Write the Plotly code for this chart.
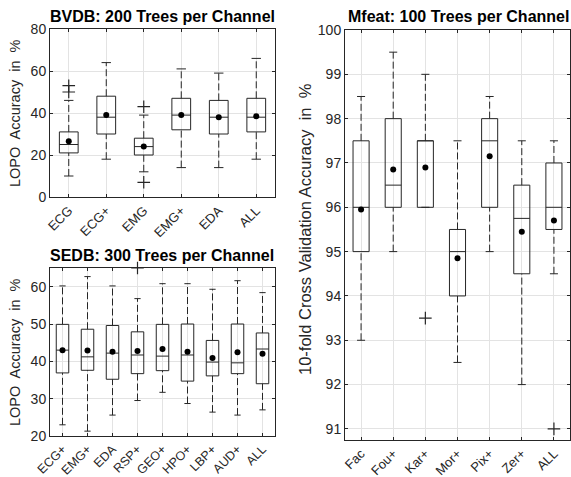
import plotly.graph_objects as go

# ---------------- data ----------------
bvdb_labels = ["ECG", "ECG+", "EMG", "EMG+", "EDA", "ALL"]
bvdb_low = [10, 18, 12, 14, 14, 18]
bvdb_q1 = [21, 30, 20, 32, 30, 31]
bvdb_med = [25, 38, 24, 39, 38, 38]
bvdb_q3 = [31, 48, 28, 47, 46, 47]
bvdb_high = [46, 64, 39, 61, 59, 66]
bvdb_mean = [26.5, 39, 24, 39, 38, 38.5]
bvdb_out_cat = ["ECG", "ECG", "EMG", "EMG"]
bvdb_out_val = [50, 53, 43, 7]

sedb_labels = ["ECG+", "EMG+", "EDA", "RSP+", "GEO+", "HPO+", "LBP+", "AUD+", "ALL"]
sedb_low = [23, 21.3, 25.6, 29.5, 31.7, 28.7, 26.4, 25.6, 27]
sedb_q1 = [36.9, 37.6, 35.2, 36.7, 37.5, 34.7, 36.1, 36.7, 34]
sedb_med = [43, 41.2, 42.2, 41.7, 41.4, 41.7, 39.8, 39.6, 43.3]
sedb_q3 = [49.9, 48.6, 49.6, 47.9, 49.9, 50, 45.6, 50, 47.6]
sedb_high = [60.2, 62.7, 60.2, 56.8, 60.8, 60.8, 59.3, 61.6, 58.4]
sedb_mean = [43, 42.9, 42.6, 42.8, 43.3, 42.6, 40.9, 42.4, 42]
sedb_out_cat = ["RSP+"]
sedb_out_val = [65]

mfeat_labels = ["Fac", "Fou+", "Kar+", "Mor+", "Pix+", "Zer+", "ALL"]
mfeat_low = [93, 95, 96, 92.5, 95, 92, 94.5]
mfeat_q1 = [95, 96, 96, 94, 96, 94.5, 95.5]
mfeat_med = [96, 96.5, 97.5, 95, 97.5, 95.75, 96]
mfeat_q3 = [97.5, 98, 97.5, 95.5, 98, 96.5, 97]
mfeat_high = [98.5, 99.5, 99, 97.5, 98.5, 97.5, 97.5]
mfeat_mean = [95.95, 96.85, 96.9, 94.85, 97.15, 95.45, 95.7]
mfeat_out_cat = ["Kar+", "ALL"]
mfeat_out_val = [93.5, 91]

# ---------------- styling ----------------
INK = "#262626"
GRID = "#e3e3e3"
FONT = "Liberation Sans, Arial, sans-serif"
BW = 0.25   # half box width (category units)
CW = 0.125  # half cap width

fig = go.Figure()


def add_panel(labels, low, q1, med, q3, high, mean, out_cat, out_val, xa, ya):
    n = len(labels)
    bx, by, mx, my, wx, wy, cx, cy = [], [], [], [], [], [], [], []
    for i in range(n):
        x = i + 1
        bx += [x - BW, x + BW, x + BW, x - BW, x - BW, None]
        by += [q1[i], q1[i], q3[i], q3[i], q1[i], None]
        mx += [x - BW, x + BW, None]
        my += [med[i], med[i], None]
        wx += [x, x, None, x, x, None]
        wy += [q3[i], high[i], None, low[i], q1[i], None]
        cx += [x - CW, x + CW, None, x - CW, x + CW, None]
        cy += [high[i], high[i], None, low[i], low[i], None]
    common = dict(xaxis=xa, yaxis=ya, showlegend=False, hoverinfo="skip")
    fig.add_trace(go.Scatter(x=wx, y=wy, mode="lines",
                             line=dict(color=INK, width=1, dash="7px,3px"), **common))
    fig.add_trace(go.Scatter(x=cx, y=cy, mode="lines",
                             line=dict(color=INK, width=1), **common))
    fig.add_trace(go.Scatter(x=bx, y=by, mode="lines",
                             line=dict(color=INK, width=1), **common))
    fig.add_trace(go.Scatter(x=mx, y=my, mode="lines",
                             line=dict(color=INK, width=1), **common))
    fig.add_trace(go.Scatter(x=list(range(1, n + 1)), y=mean, mode="markers",
                             marker=dict(color="black", size=6, symbol="circle"), **common))
    ox = [labels.index(c) + 1 for c in out_cat]
    fig.add_trace(go.Scatter(x=ox, y=out_val, mode="markers", cliponaxis=False,
                             marker=dict(symbol="cross-thin-open", size=9, color=INK,
                                         line=dict(color=INK, width=1.2)), **common))


add_panel(bvdb_labels, bvdb_low, bvdb_q1, bvdb_med, bvdb_q3, bvdb_high, bvdb_mean,
          bvdb_out_cat, bvdb_out_val, "x", "y")
add_panel(sedb_labels, sedb_low, sedb_q1, sedb_med, sedb_q3, sedb_high, sedb_mean,
          sedb_out_cat, sedb_out_val, "x2", "y2")
add_panel(mfeat_labels, mfeat_low, mfeat_q1, mfeat_med, mfeat_q3, mfeat_high, mfeat_mean,
          mfeat_out_cat, mfeat_out_val, "x3", "y3")

W, H = 571, 477


def px_x(p):
    return p / W


def px_y(p):
    return 1 - p / H


ax_common = dict(showline=True, linecolor=INK, linewidth=1, mirror="ticks",
                 ticks="inside", ticklen=3, tickcolor=INK, showgrid=True,
                 gridcolor=GRID, gridwidth=1, zeroline=False, automargin=False,
                 tickfont=dict(family=FONT, size=14, color=INK))


def xaxis(labels, dom, anchor, size):
    n = len(labels)
    d = dict(ax_common)
    d.update(domain=dom, anchor=anchor, range=[0.5, n + 0.5],
             tickmode="array", tickvals=list(range(1, n + 1)), ticktext=labels,
             tickangle=-45, tickfont=dict(family=FONT, size=size, color=INK))
    return d


def yaxis(rng, ticks, dom, anchor):
    d = dict(ax_common)
    d.update(domain=dom, anchor=anchor, range=rng, tickmode="array", tickvals=ticks)
    return d


fig.update_layout(
    width=W, height=H,
    margin=dict(l=0, r=0, t=0, b=0, autoexpand=False),
    paper_bgcolor="white", plot_bgcolor="white",
    xaxis=xaxis(bvdb_labels, [px_x(50), px_x(275)], "y", 13),
    yaxis=yaxis([0, 80], [0, 20, 40, 60, 80], [px_y(197), px_y(29)], "x"),
    xaxis2=xaxis(sedb_labels, [px_x(50), px_x(275)], "y2", 12.5),
    yaxis2=yaxis([20, 65], [20, 30, 40, 50, 60], [px_y(436), px_y(268)], "x2"),
    xaxis3=xaxis(mfeat_labels, [px_x(345), px_x(570)], "y3", 13),
    yaxis3=yaxis([90.75, 100], list(range(91, 101)), [px_y(440), px_y(30)], "x3"),
)

title_font = dict(family=FONT, size=16, color="black")
label_font = dict(family=FONT, size=14.5, color=INK)
label_font_big = dict(family=FONT, size=16.5, color=INK)
ann = [
    dict(text="<b>BVDB: 200 Trees per Channel</b>", x=px_x(162), y=px_y(17), font=title_font),
    dict(text="<b>SEDB: 300 Trees per Channel</b>", x=px_x(162), y=px_y(255), font=title_font),
    dict(text="<b>Mfeat: 100 Trees per Channel</b>", x=px_x(458), y=px_y(17), font=title_font),
    dict(text="LOPO\u00a0 Accuracy\u00a0 in\u00a0 %", x=px_x(15), y=px_y(113), textangle=-90, font=label_font),
    dict(text="LOPO\u00a0 Accuracy\u00a0 in\u00a0 %", x=px_x(15), y=px_y(352), textangle=-90, font=label_font),
    dict(text="10-fold Cross Validation Accuracy\u00a0 in\u00a0 %", x=px_x(305), y=px_y(229), textangle=-90, font=label_font_big),
]
for a in ann:
    a.update(xref="paper", yref="paper", showarrow=False, xanchor="center", yanchor="middle")
fig.update_layout(annotations=ann)

fig.write_html("out.html", config={"displayModeBar": False},
               post_script="document.body.style.margin='0';document.body.style.overflow='hidden';")
